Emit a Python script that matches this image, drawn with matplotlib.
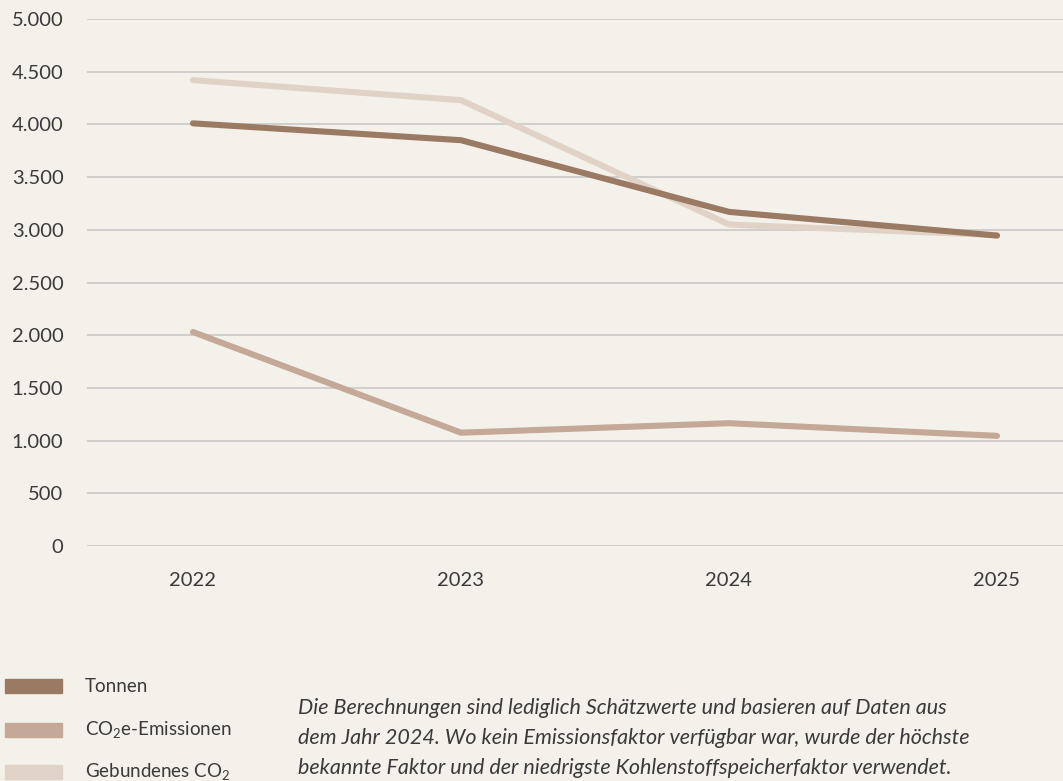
import matplotlib
matplotlib.use("Agg")
import matplotlib.pyplot as plt
from matplotlib import patches
from matplotlib.ticker import FuncFormatter

# Data
years = [2022, 2023, 2024, 2025]
tonnen = [4010, 3850, 3170, 2945]
co2e_emissionen = [2030, 1075, 1165, 1045]
gebundenes_co2 = [4420, 4230, 3050, 2950]
labels = ["Tonnen", "CO$_2$e-Emissionen", "Gebundenes CO$_2$"]
footnote = ("Die Berechnungen sind lediglich Schätzwerte und basieren auf Daten aus\n"
            "dem Jahr 2024. Wo kein Emissionsfaktor verfügbar war, wurde der höchste\n"
            "bekannte Faktor und der niedrigste Kohlenstoffspeicherfaktor verwendet.")

# Style
BG = "#F4F1EB"
C_TONNEN = "#9B7A64"
C_CO2E = "#C4A898"
C_GEB = "#E0D2C6"
GRID = "#C9C9C7"
TEXT = "#3A3A3A"
LW = 4.4

plt.rcParams["font.family"] = ["Lato", "DejaVu Sans"]
plt.rcParams["mathtext.fontset"] = "custom"
plt.rcParams["mathtext.rm"] = "Lato"
plt.rcParams["mathtext.it"] = "Lato:italic"
plt.rcParams["mathtext.bf"] = "Lato"

W, H = 1063, 781
fig = plt.figure(figsize=(W / 100, H / 100), dpi=100, facecolor=BG)
ax = fig.add_axes([87 / W, 1 - 546 / H, 1 - 87 / W, (546 - 19) / H])
ax.set_facecolor(BG)

slope = (997 - 193) / 3
ax.set_xlim(2022 - (193 - 87) / slope, 2025 + (1063 - 997) / slope)
ax.set_ylim(0, 5000)

ax.plot(years, gebundenes_co2, color=C_GEB, lw=LW, solid_capstyle="round",
        solid_joinstyle="round", zorder=3, clip_on=False)
ax.plot(years, co2e_emissionen, color=C_CO2E, lw=LW, solid_capstyle="round",
        solid_joinstyle="round", zorder=4, clip_on=False)
ax.plot(years, tonnen, color=C_TONNEN, lw=LW, solid_capstyle="round",
        solid_joinstyle="round", zorder=5, clip_on=False)

ax.set_yticks(range(0, 5001, 500))
ax.yaxis.set_major_formatter(FuncFormatter(lambda v, p: f"{int(v):,}".replace(",", ".")))
ax.set_xticks(years)
ax.grid(axis="y", color=GRID, lw=1.2)
ax.set_axisbelow(True)
for s in ax.spines.values():
    s.set_visible(False)
ax.tick_params(axis="y", length=0, pad=17, labelsize=14.5, labelcolor=TEXT)
ax.tick_params(axis="x", length=0, pad=19, labelsize=14.5, labelcolor=TEXT)

# Legend
legend_colors = [C_TONNEN, C_CO2E, C_GEB]
legend_y = [686, 730, 772]
for lab, col, y in zip(labels, legend_colors, legend_y):
    fig.patches.append(patches.Rectangle((5 / W, 1 - (y + 7) / H), 57 / W, 14 / H,
                                         transform=fig.transFigure, color=col))
    fig.text(85 / W, 1 - y / H, lab, fontsize=13.5, color=TEXT, va="center", ha="left")

fig.text(298 / W, 1 - 738 / H, footnote, fontsize=15.5, style="italic",
         color=TEXT, va="center", ha="left", linespacing=1.65)

fig.savefig("out.png", dpi=100, facecolor=BG)
